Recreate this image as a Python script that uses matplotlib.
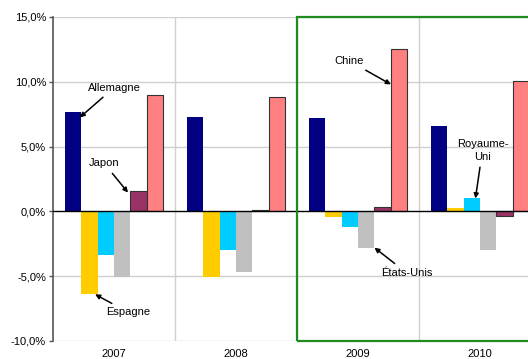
import numpy as np
import matplotlib.pyplot as plt
from matplotlib.patches import Rectangle

plt.rcParams['font.family'] = ['Liberation Sans', 'DejaVu Sans']

years = ['2007', '2008', '2009', '2010']
series = ['Allemagne', 'Espagne', 'Royaume-Uni', 'États-Unis', 'Japon', 'Chine']
allemagne = [7.7, 7.3, 7.2, 6.6]
espagne = [-6.4, -5.1, -0.45, 0.23]
royaume_uni = [-3.4, -3.0, -1.2, 1.0]
etats_unis = [-5.1, -4.7, -2.8, -3.0]
japon = [1.6, 0.13, 0.33, -0.35]
chine = [9.0, 8.8, 12.5, 10.1]
values = [allemagne, espagne, royaume_uni, etats_unis, japon, chine]
colors = ['#000080', '#FFCC00', '#00CCFF', '#C0C0C0', '#993366', '#FF8080']
edges = ['none', 'none', 'none', 'none', '#333333', '#333333']
yticks = [-10, -5, 0, 5, 10, 15]

W, H = 528, 359
fig = plt.figure(figsize=(W / 100, H / 100), dpi=100)
# axes runs past the right edge, like the cropped original
ax = fig.add_axes([53 / W, 18 / H, 488 / W, 324 / H])

x = np.arange(len(years))
w = 0.135
bars = []
for i in range(len(series)):
    b = ax.bar(x + (i - 2.5) * w, values[i], w, color=colors[i],
               edgecolor=edges[i], linewidth=0.8, zorder=3)
    bars.append(b)

ax.set_xlim(-0.5, 3.5)
ax.set_ylim(-10, 15)
ax.set_yticks(yticks)
ax.yaxis.set_major_formatter(plt.FuncFormatter(lambda v, p: ('%.1f%%' % v).replace('.', ',')))
ax.set_xticks(x)
ax.set_xticklabels(years)
ax.tick_params(axis='x', length=0, pad=6, labelsize=8)
ax.tick_params(axis='y', length=3, width=1, color='#555555', pad=2, labelsize=8)

for v in yticks:
    if v != 0:
        ax.axhline(v, color='#D0D0D0', lw=1, zorder=1)
for b in [0.5, 1.5, 2.5]:
    ax.axvline(b, color='#D0D0D0', lw=1, zorder=1)
ax.axhline(0, color='black', lw=1, zorder=4)

for s in ['top', 'right', 'bottom']:
    ax.spines[s].set_visible(False)
ax.spines['left'].set_color('#555555')
ax.spines['left'].set_linewidth(1.2)

ax.add_patch(Rectangle((1.5, -10), 2.5, 25, fill=False, edgecolor='#1E8C1E',
                       lw=1.6, zorder=5, clip_on=False))

arrow = dict(arrowstyle='-|>', color='black', lw=1.1, mutation_scale=7,
             shrinkA=2, shrinkB=0)

def corner(series_i, year_i, side, end):
    r = bars[series_i][year_i]
    xs = {'l': r.get_x(), 'r': r.get_x() + r.get_width(),
          'c': r.get_x() + r.get_width() / 2}[side]
    y0, y1 = r.get_y(), r.get_y() + r.get_height()
    ys = max(y0, y1) if end == 'top' else min(y0, y1)
    return xs, ys

def note(txt, tip, pos):
    ax.annotate(txt, xy=tip, xytext=pos, ha='center', va='center',
                fontsize=8, arrowprops=arrow, zorder=6, linespacing=1.3)

tx, ty = corner(0, 0, 'r', 'top')
note('Allemagne', (tx - 0.01, ty - 0.45), (0.0, 9.55))
tx, ty = corner(4, 0, 'l', 'top')
note('Japon', (tx - 0.02, ty - 0.15), (-0.08, 3.7))
tx, ty = corner(1, 0, 'r', 'bottom')
note('Espagne', (tx - 0.02, ty), (0.12, -7.8))
tx, ty = corner(5, 2, 'l', 'top')
note('Chine', (tx, 9.8), (1.93, 11.6))
tx, ty = corner(2, 3, 'c', 'top')
note('Royaume-\nUni', (tx + 0.03, ty), (3.02, 4.7))
tx, ty = corner(3, 2, 'r', 'bottom')
note('États-Unis', (tx, ty), (2.4, -4.75))

fig.savefig('out.png', dpi=100)
